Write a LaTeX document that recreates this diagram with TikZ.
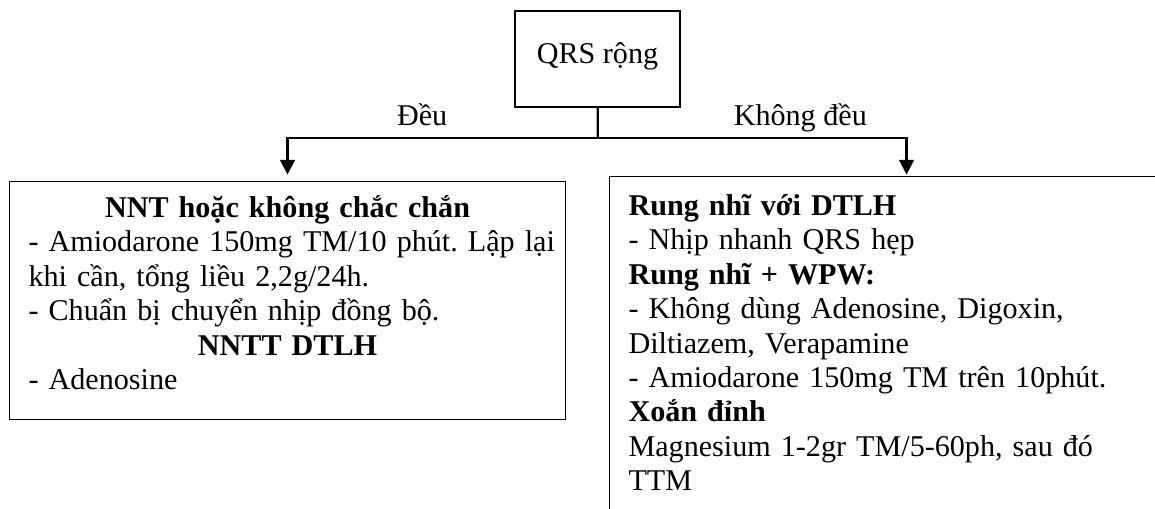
\documentclass[tikz,border=0pt]{standalone}
\usepackage{fontspec}
\setmainfont{Liberation Serif}
\usepackage{tikz}
\usetikzlibrary{positioning,arrows.meta}
\usepackage{xcolor}
\frenchspacing

\begin{document}
\begin{tikzpicture}[
      x=0.75pt, y=-0.75pt,
      >={Triangle[width=11pt,length=11pt]},
      every node/.style={font=\fontsize{22.6}{25.8}\selectfont},
      head/.style={draw=black,line width=0.8pt,inner sep=0pt,minimum width=123.75pt,text height=39pt,text depth=33pt,anchor=base},
      box/.style={draw=black,line width=0.8pt,inner xsep=14.25pt,inner ysep=0pt,align=left,anchor=north west},
      lbl/.style={above=8pt,inner sep=0pt,text depth=0pt},
      trunk/.style={line width=1.7pt},
      flow/.style={->,line width=1.7pt}
    ]
      \useasboundingbox (0,0) rectangle (1155,508);
      \clip (0,0) rectangle (1155,508);

      \node[head] (qrs) at (597.5,63) {QRS rộng};

      \node[box,text width=388.5pt,text height=27pt,text depth=151.5pt] (nnt) at (9,181) {%
        \makebox[\linewidth][c]{\textbf{NNT hoặc không chắc chắn}}\\
        \makebox[\linewidth][l]{- Amiodarone 150mg TM/10 phút. Lập lại}\\
        khi cần, tổng liều 2,2g/24h.\\
        - Chuẩn bị chuyển nhịp đồng bộ.\\
        \makebox[\linewidth][c]{\textbf{NNTT DTLH}}\\
        - Adenosine};

      \node[box,text width=417pt,text height=29.25pt,text depth=300pt] (rung) at (609,176) {%
        \textbf{Rung nhĩ với DTLH}\\
        - Nhịp nhanh QRS hẹp\\
        \textbf{Rung nhĩ + WPW:}\\
        - Không dùng Adenosine, Digoxin,\\
        Diltiazem, Verapamine\\
        - Amiodarone 150mg TM trên 10phút.\\
        \textbf{Xoắn đỉnh}\\
        Magnesium 1-2gr TM/5-60ph, sau đó\\
        TTM};

      \coordinate (split) at (597.7,137.7);

      \draw[trunk] (qrs) -- (split);
      \draw[flow,shorten >=4.8pt] (split) -| node[lbl,pos=0.283]{Đều} (nnt);
      \draw[flow,shorten >=1.1pt] (split) -| node[lbl,pos=0.328]{Không đều} (rung);
    \end{tikzpicture}
\end{document}
